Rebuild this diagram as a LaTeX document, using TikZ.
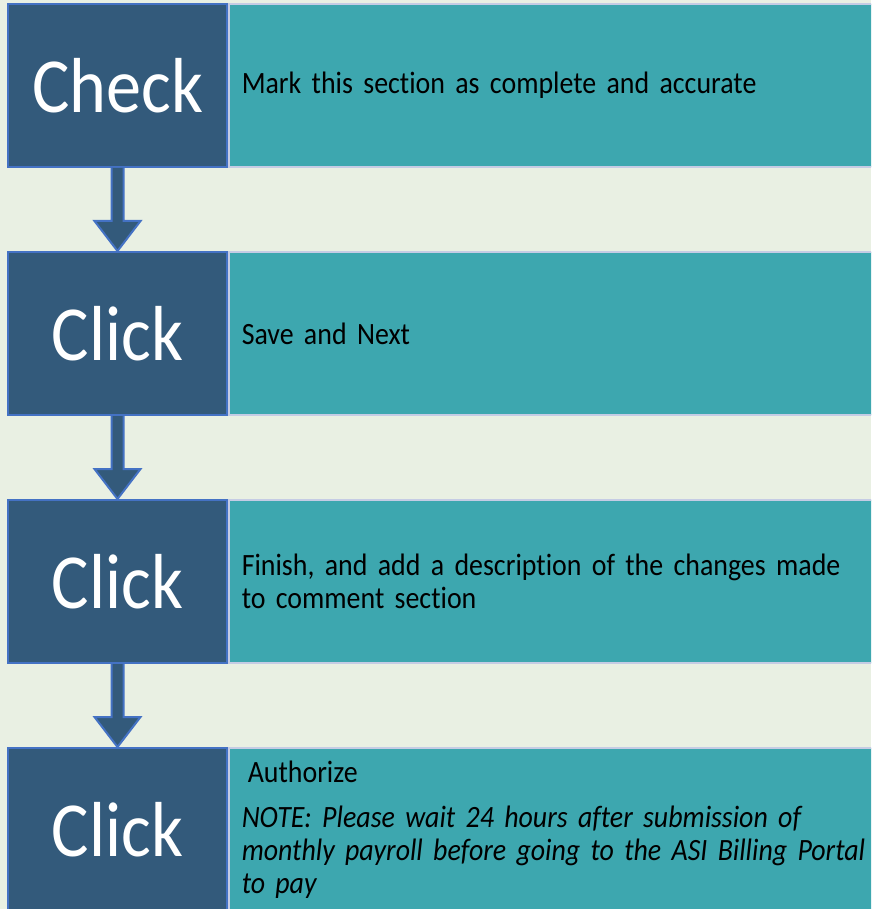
\documentclass[tikz,border=0pt]{standalone}
\usepackage{fontspec}
\setmainfont{Carlito}[Ligatures=NoCommon, FakeStretch=0.9, WordSpace=0.85]
\usetikzlibrary{positioning,calc}

\definecolor{paper}{HTML}{E9F0E3}
\definecolor{slate}{HTML}{335A7B}
\definecolor{blueedge}{HTML}{4472C4}
\definecolor{tealfill}{HTML}{3DA7AF}
\definecolor{lavedge}{HTML}{C5CCE4}

\begin{document}
\begin{tikzpicture}[x=1pt,y=-1pt,
		stepbox/.style={draw=blueedge, line width=2pt, fill=slate, text=white,
				minimum width=219pt, minimum height=163pt, inner sep=0pt,
				font=\fontsize{78}{78}\selectfont},
		descbox/.style={draw=lavedge, line width=1.5pt, fill=tealfill, text=black,
				minimum width=680pt, minimum height=163pt, text width=654pt,
				inner xsep=13pt, align=left, font=\fontsize{31}{33}\selectfont},
		flowarrow/.style={draw=blueedge, line width=2pt, fill=slate, line join=miter}]

		% page and background
		\clip (0,0) rectangle (871,909);
		\fill[paper] (0,0) rectangle (871,909);

		% the four steps
		\node[stepbox] (s1) at (117.5,85.5) {Check};
		\node[descbox, right=0pt of s1] (d1) {Mark this section as complete and accurate};

		\node[stepbox] (s2) at (117.5,333.5) {Click};
		\node[descbox, right=0pt of s2] (d2) {Save and Next};

		\node[stepbox] (s3) at (117.5,581.5) {Click};
		\node[descbox, right=0pt of s3] (d3) {Finish, and add a description of the changes made\\to comment section};

		\node[stepbox] (s4) at (117.5,829.5) {Click};
		\node[descbox, right=0pt of s4] (d4) {\hspace{6pt}Authorize\\[12pt]
				\textit{NOTE: Please wait 24 hours after submission of\\monthly payroll before going to the ASI Billing Portal\\to pay}};

		% down arrows between the steps
		\foreach \a/\b in {s1/s2, s2/s3, s3/s4} {
				\draw[flowarrow] ($(\a.south)+(-6pt,0pt)$) -- ($(\b.north)+(-6pt,30pt)$)
				-- ($(\b.north)+(-23pt,30pt)$) -- (\b.north)
				-- ($(\b.north)+(23pt,30pt)$) -- ($(\b.north)+(6pt,30pt)$)
				-- ($(\a.south)+(6pt,0pt)$);
			}
	\end{tikzpicture}
\end{document}
